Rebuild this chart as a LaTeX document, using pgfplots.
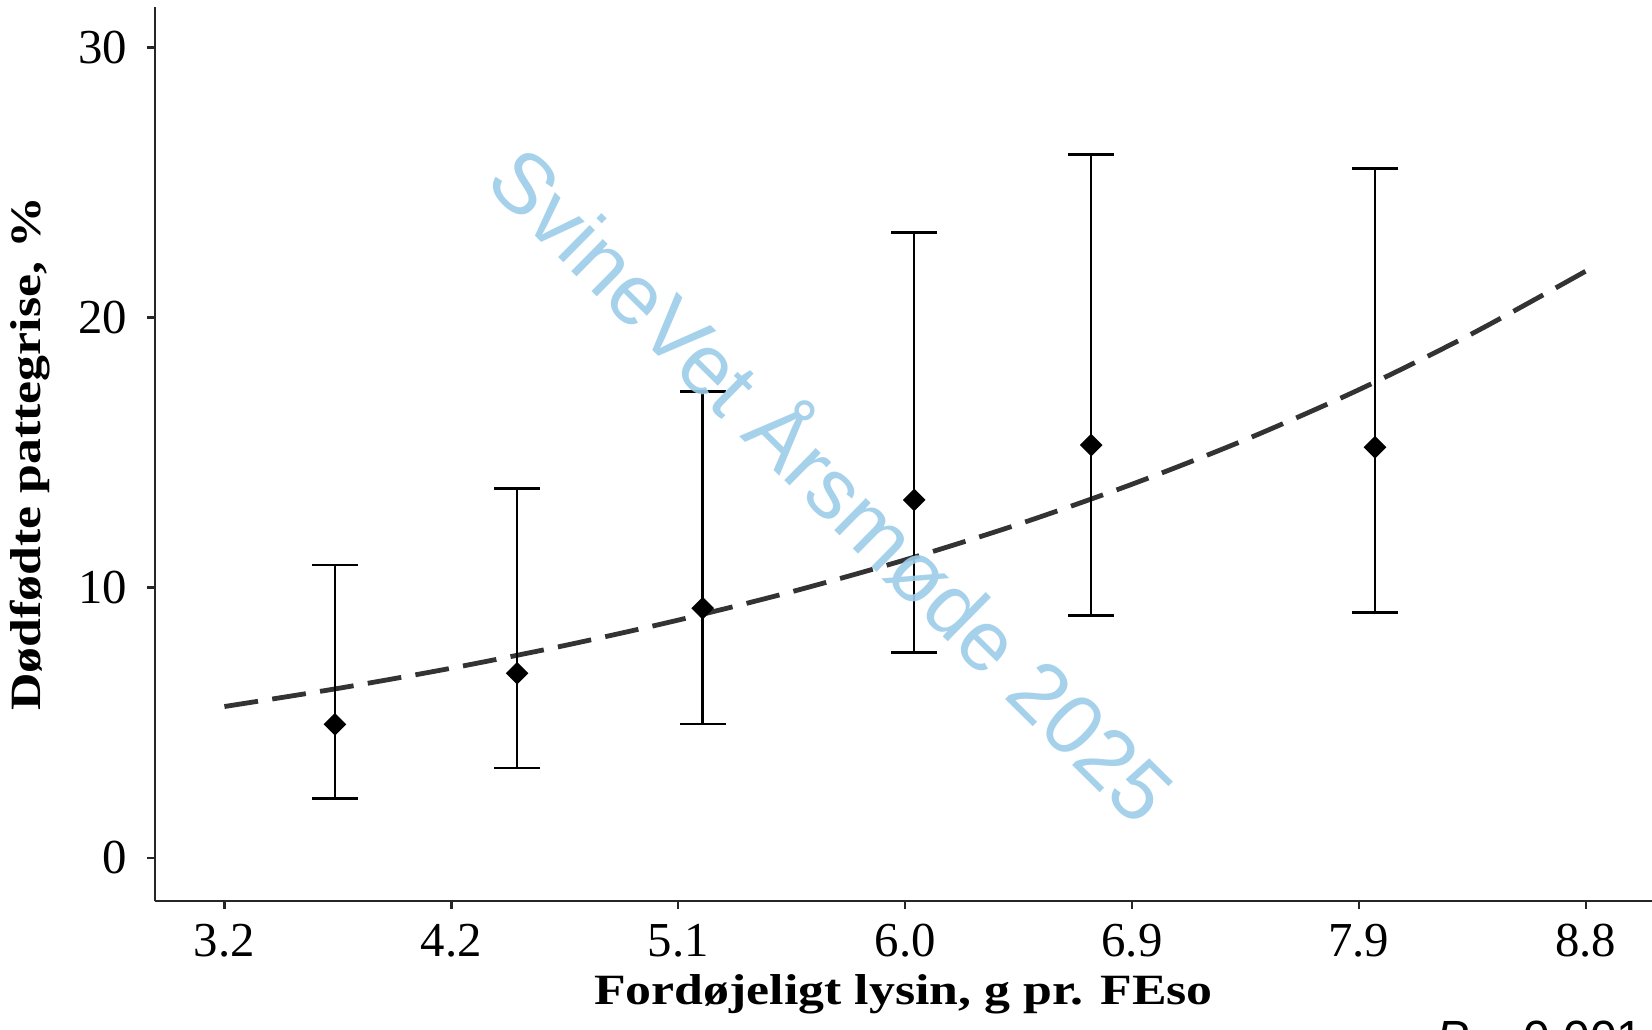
\documentclass[border=0pt]{standalone}
\usepackage{fontspec}
\setmainfont{Liberation Serif}
\newfontfamily\wmfont{Liberation Sans}
\usepackage{pgfplots}
\usepackage{pgfplotstable}
\pgfplotsset{compat=1.18}
\definecolor{wmblue}{RGB}{156,204,233}
\definecolor{curvegray}{RGB}{51,51,51}

\pgfplotstableread{
x      y      ep     em
0.487  4.94   5.90   2.74
1.290  6.83   6.84   3.50
2.108  9.24   8.02   4.28
3.040  13.25  9.89   5.66
3.820  15.28  10.75  6.32
5.071  15.20  10.32  6.11
}\pointdata

\pgfplotstableread{
x    y
0.0  5.60
0.5  6.27
1.0  7.02
1.5  7.86
2.0  8.80
2.5  9.85
3.0  11.03
3.5  12.35
4.0  13.83
4.5  15.48
5.0  17.33
5.5  19.41
6.0  21.72
}\curvedata

\begin{document}
\begin{tikzpicture}
\begin{axis}[
  at={(38.75bp,32.25bp)}, anchor=south west,
  width=374.25bp, height=223.5bp, scale only axis,
  xmin=-0.306, xmax=6.292, ymin=-1.6, ymax=31.5,
  axis x line*=bottom, axis y line*=left,
  axis line style={line width=0.6bp, black!85},
  xtick={0,1,2,3,4,5,6},
  xticklabels={3.2,4.2,5.1,6.0,6.9,7.9,8.8},
  ytick={0,10,20,30},
  tick align=outside, major tick length=1.9bp,
  tick style={line width=0.6bp, black!85},
  /pgf/number format/assume math mode=true,
  tick label style={font=\fontsize{12.2bp}{14bp}\selectfont},
  xticklabel style={anchor=north, inner sep=0pt, yshift=-3.6bp},
  yticklabel style={anchor=east, inner sep=0pt, xshift=-4.85bp},
  xlabel={Fordøjeligt lysin, g pr. FEso},
  xlabel style={font=\bfseries\fontsize{10.8bp}{13bp}\selectfont, at={(axis description cs:0.5,-0.1163)}, anchor=base, xscale=1.2},
  ylabel={Dødfødte pattegrise, \%},
  ylabel style={font=\bfseries\fontsize{10.8bp}{13bp}\selectfont, at={(axis description cs:-0.0835,0.5)}, anchor=center, xscale=1.2},
  clip=false,
]
\addplot[curvegray, line width=1.2bp, dash pattern=on 8.5bp off 3.6bp, smooth] table[x=x, y=y] {\curvedata};
\addplot[only marks, mark=square*, mark size=1.8bp, mark options={rotate=45, fill=black, draw=black},
  error bars/.cd, y dir=both, y explicit,
  error bar style={line width=0.65bp, black},
  error mark options={black, line width=0.65bp, mark size=5.7bp, rotate=90}]
  table[x=x, y=y, y error plus=ep, y error minus=em] {\pointdata};
\end{axis}
\node[rotate=-44.6, text=wmblue, text opacity=0.9, font=\wmfont\fontsize{21.3bp}{24bp}\selectfont, inner sep=0pt] at (209bp,137.3bp) {SvineVet Årsmøde 2025};
\node[anchor=north west, inner sep=0pt, font=\wmfont\fontsize{12bp}{14bp}\selectfont] at (359bp,2.5bp) {\textit{P} = 0.001};
\pgfresetboundingbox
\useasboundingbox (0,0) rectangle (413bp,257.5bp);
\end{tikzpicture}
\end{document}
